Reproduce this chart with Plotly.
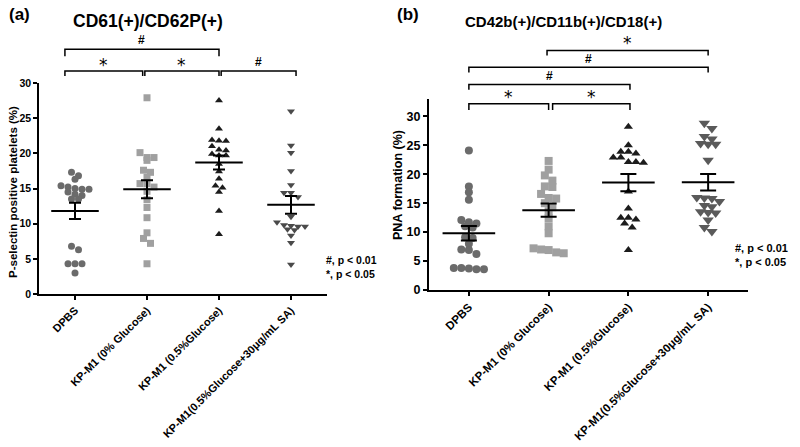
import numpy as np
import plotly.graph_objects as go

# ---------------- data ----------------
categories = ["DPBS", "KP-M1 (0% Glucose)", "KP-M1 (0.5%Glucose)", "KP-M1(0.5%Glucose+30μg/mL SA)"]

a_dpbs = [17.3, 16.8, 16.3, 15.4, 15.2, 15.0, 14.9, 14.9, 14.5, 14.2, 14.0, 13.5, 13.5, 6.8, 6.3, 4.3, 4.3, 4.3, 3.0]
a_kp0 = [27.9, 20.1, 19.4, 19.4, 19.0, 17.6, 17.3, 16.6, 15.7, 15.7, 15.2, 14.6, 13.4, 12.3, 10.85, 8.7, 7.9, 7.2, 4.3]
a_kp05 = [27.5, 23.5, 21.9, 21.8, 21.75, 21.0, 20.5, 20.4, 19.9, 19.7, 19.7, 18.5, 17.4, 16.4, 15.4, 15.1, 14.5, 11.8, 8.5]
a_kpsa = [26.0, 21.1, 20.1, 17.5, 15.5, 14.4, 14.4, 13.8, 11.0, 10.2, 9.8, 9.7, 9.6, 9.6, 9.2, 9.1, 8.3, 7.3, 4.2]

b_dpbs = [24.1, 17.9, 16.9, 15.6, 12.1, 11.7, 11.5, 11.0, 10.8, 9.1, 9.0, 8.0, 7.0, 6.9, 6.2, 3.8, 3.7, 3.6, 3.6, 3.8]
b_kp0 = [22.3, 20.8, 19.8, 18.9, 17.9, 17.8, 16.6, 15.8, 15.9, 15.0, 14.3, 13.6, 12.4, 11.0, 9.8, 7.2, 6.9, 6.35, 6.5, 7.0]
b_kp05 = [28.2, 25.0, 23.9, 23.6, 23.9, 22.9, 22.9, 22.1, 22.0, 22.1, 17.0, 14.1, 12.5, 12.2, 12.5, 11.5, 10.8, 6.9]
b_kpsa = [28.8, 27.9, 26.5, 26.1, 25.2, 25.2, 25.3, 22.4, 16.0, 15.9, 15.8, 15.3, 14.6, 14.4, 13.5, 13.3, 13.4, 12.1, 10.8, 10.1]

y_ticks_a = [0, 5, 10, 15, 20, 25, 30]
y_ticks_b = [0, 5, 10, 15, 20, 25, 30]

# significance brackets: (start category, end category, level, drop level, label, label level)
brackets_a = [
    (-0.14, 0.94, 31.7, 31.0, "*", 32.6),
    (0.97, 2.0, 31.7, 31.0, "*", 32.6),
    (2.03, 3.07, 31.7, 31.0, "#", 33.0),
    (-0.14, 2.0, 34.8, 33.8, "#", 36.1),
]
brackets_b = [
    (0.0, 1.0, 32.2, 31.1, "*", 33.4),
    (1.05, 2.02, 32.2, 31.1, "*", 33.4),
    (0.0, 2.02, 35.5, 34.6, "#", 36.9),
    (0.0, 3.0, 38.5, 37.6, "#", 39.9),
    (0.98, 3.0, 41.4, 40.5, "*", 42.6),
]

# ---------------- layout geometry ----------------
W, H = 800, 447
A_X = [39 / W, 327 / W]
A_Y = [1 - 294 / H, 1 - 83 / H]
B_X = [429 / W, 748 / W]
B_Y = [1 - 290 / H, 1 - 99 / H]
XR = [-0.5, 3.5]
A_YR = [0, 30]
B_YR = [0, 33]

FONT = "Liberation Sans, Arial, sans-serif"
STAR_FONT = "DejaVu Sans, Liberation Sans, sans-serif"


def swarm(vals, px_per_y, px_per_x, d):
    vals = np.asarray(vals, float)
    order = np.argsort(-vals, kind="stable")
    rows, cur = [], []
    for i in order:
        if cur and (vals[cur[0]] - vals[i]) * px_per_y < d * 0.75:
            cur.append(i)
        else:
            if cur:
                rows.append(cur)
            cur = [i]
    if cur:
        rows.append(cur)
    off = np.zeros(len(vals))
    for r in rows:
        n = len(r)
        for k, i in enumerate(r):
            off[i] = (k - (n - 1) / 2) * d / px_per_x
    return off


fig = go.Figure()

panels = [
    dict(data=[a_dpbs, a_kp0, a_kp05, a_kpsa], xa="x", ya="y", pxy=(294 - 83) / 30, pxx=72.0,
         symbols=["circle", "square", "triangle-up", "triangle-down"],
         colors=["#6b6b6b", "#a0a0a0", "#1c1c1c", "#4a4a4a"], sizes=[7, 7, 7, 7], d=7.0,
         half=0.33, cap=6),
    dict(data=[b_dpbs, b_kp0, b_kp05, b_kpsa], xa="x2", ya="y2", pxy=(290 - 117) / 30, pxx=79.3,
         symbols=["circle", "square", "triangle-up", "triangle-down"],
         colors=["#6b6b6b", "#a0a0a0", "#1c1c1c", "#5a5a5a"], sizes=[8, 8, 8, 10], d=7.5,
         half=0.33, cap=8),
]

for p in panels:
    for ci, vals in enumerate(p["data"]):
        off = swarm(vals, p["pxy"], p["pxx"], p["d"])
        xs = ci + off
        fig.add_trace(go.Scatter(
            x=xs, y=vals, mode="markers", xaxis=p["xa"], yaxis=p["ya"],
            marker=dict(symbol=p["symbols"][ci], color=p["colors"][ci], size=p["sizes"][ci],
                        line=dict(width=0)),
            showlegend=False, hoverinfo="skip"))
    for ci, vals in enumerate(p["data"]):
        v = np.asarray(vals, float)
        m = v.mean()
        sem = v.std(ddof=1) / np.sqrt(len(v))
        fig.add_trace(go.Scatter(
            x=[ci - p["half"], ci + p["half"]], y=[m, m], mode="lines",
            xaxis=p["xa"], yaxis=p["ya"], line=dict(color="black", width=2),
            showlegend=False, hoverinfo="skip"))
        fig.add_trace(go.Scatter(
            x=[ci], y=[m], mode="markers", xaxis=p["xa"], yaxis=p["ya"],
            marker=dict(size=1, color="rgba(0,0,0,0)"),
            error_y=dict(type="data", array=[sem], color="black", thickness=2, width=p["cap"]),
            showlegend=False, hoverinfo="skip"))


def ypaper(v, dom, rng):
    return dom[0] + (v - rng[0]) / (rng[1] - rng[0]) * (dom[1] - dom[0])


def xdom(c):
    return (c - XR[0]) / (XR[1] - XR[0])


shapes, annotations = [], []
for brs, xa, dom, rng, lw in [(brackets_a, "x", A_Y, A_YR, 1.5), (brackets_b, "x2", B_Y, B_YR, 1.5)]:
    for (c0, c1, lev, drop, lab, llev) in brs:
        x0, x1 = xdom(c0), xdom(c1)
        y0, y1 = ypaper(drop, dom, rng), ypaper(lev, dom, rng)
        shapes.append(dict(type="path", xref=xa + " domain", yref="paper",
                           path=f"M {x0},{y0} L {x0},{y1} L {x1},{y1} L {x1},{y0}",
                           line=dict(color="black", width=lw)))
        if lab == "*":
            fnt = dict(family=STAR_FONT, size=17, color="black")
        else:
            fnt = dict(family=FONT, size=12, color="black", weight="bold")
        annotations.append(dict(xref=xa + " domain", yref="paper", x=(x0 + x1) / 2,
                                y=ypaper(llev, dom, rng), text=lab, showarrow=False,
                                font=fnt, xanchor="center", yanchor="middle"))

# titles & labels
annotations += [
    dict(xref="paper", yref="paper", x=7 / W, y=1 - 15 / H, text="(a)", showarrow=False,
         font=dict(family=FONT, size=17, color="black", weight="bold"), xanchor="left", yanchor="middle"),
    dict(xref="paper", yref="paper", x=148 / W, y=1 - 21 / H, text="CD61(+)/CD62P(+)", showarrow=False,
         font=dict(family=FONT, size=17.5, color="black", weight="bold"), xanchor="center", yanchor="middle"),
    dict(xref="paper", yref="paper", x=395 / W, y=1 - 15 / H, text="(b)", showarrow=False,
         font=dict(family=FONT, size=17, color="black", weight="bold"), xanchor="left", yanchor="middle"),
    dict(xref="paper", yref="paper", x=563 / W, y=1 - 22 / H, text="CD42b(+)/CD11b(+)/CD18(+)", showarrow=False,
         font=dict(family=FONT, size=15, color="black", weight="bold"), xanchor="center", yanchor="middle"),
    dict(xref="paper", yref="paper", x=13 / W, y=1 - 192 / H, text="P-selectin positive platelets (%)",
         showarrow=False, textangle=-90,
         font=dict(family=FONT, size=11.5, color="black", weight="bold"), xanchor="center", yanchor="middle"),
    dict(xref="paper", yref="paper", x=398 / W, y=1 - 185 / H, text="PNA formation (%)",
         showarrow=False, textangle=-90,
         font=dict(family=FONT, size=12.5, color="black", weight="bold"), xanchor="center", yanchor="middle"),
    dict(xref="paper", yref="paper", x=324 / W, y=1 - 267 / H, text="#, p < 0.01<br>*, p < 0.05",
         showarrow=False, align="left",
         font=dict(family=FONT, size=10.5, color="black", weight="bold"), xanchor="left", yanchor="middle"),
    dict(xref="paper", yref="paper", x=733 / W, y=1 - 255 / H, text="#, p < 0.01<br>*, p < 0.05",
         showarrow=False, align="left",
         font=dict(family=FONT, size=11, color="black", weight="bold"), xanchor="left", yanchor="middle"),
]

xcommon = dict(range=XR, tickmode="array", tickvals=list(range(len(categories))), ticktext=categories,
               tickangle=-45, showgrid=False, zeroline=False, showline=True, linecolor="black",
               ticks="outside", ticklen=4, tickcolor="black", automargin=False)

fig.update_layout(
    width=W, height=H, margin=dict(l=0, r=0, t=0, b=0, autoexpand=False),
    paper_bgcolor="white", plot_bgcolor="rgba(0,0,0,0)", showlegend=False,
    font=dict(family=FONT, color="black"),
    xaxis=dict(domain=A_X, anchor="y", linewidth=1.5, tickwidth=1.5,
               tickfont=dict(family=FONT, size=11, color="black", weight="bold"), **xcommon),
    yaxis=dict(domain=A_Y, anchor="x", range=A_YR, tickmode="array", tickvals=y_ticks_a,
               showgrid=False, zeroline=False, showline=True, linecolor="black", linewidth=1.5,
               ticks="outside", ticklen=4, tickwidth=1.5, tickcolor="black", automargin=False,
               tickfont=dict(family=FONT, size=10.5, color="black", weight="bold")),
    xaxis2=dict(domain=B_X, anchor="y2", linewidth=2, tickwidth=2,
                tickfont=dict(family=FONT, size=11.5, color="black", weight="bold"), **xcommon),
    yaxis2=dict(domain=B_Y, anchor="x2", range=B_YR, tickmode="array", tickvals=y_ticks_b,
                showgrid=False, zeroline=False, showline=True, linecolor="black", linewidth=2,
                ticks="outside", ticklen=4, tickwidth=2, tickcolor="black", automargin=False,
                tickfont=dict(family=FONT, size=12.5, color="black", weight="bold")),
    shapes=shapes, annotations=annotations,
)

fig.write_html("out.html")
